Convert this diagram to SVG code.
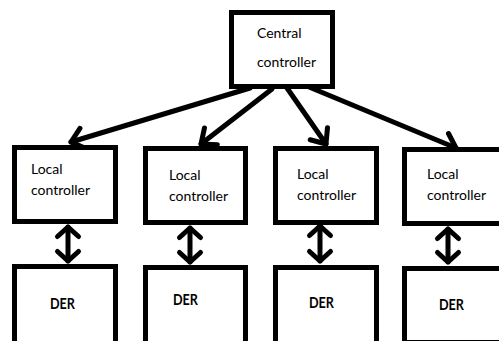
<svg xmlns="http://www.w3.org/2000/svg" width="499" height="341" viewBox="0 0 499 341">
<style>
.box{fill:#fff;stroke:#000;stroke-width:5}
.lbl{font-family:Lato,"Liberation Sans",sans-serif;font-size:14px;fill:#000}
.der{font-family:Lato,"Liberation Sans",sans-serif;font-size:15px;font-weight:bold;fill:#000}
.conn{stroke:#000;stroke-width:5;fill:none;stroke-linecap:round}
</style>
<defs>
<marker id="head" markerUnits="userSpaceOnUse" markerWidth="40" markerHeight="40" viewBox="-20 -20 40 40" refX="0" refY="0" orient="auto-start-reverse" overflow="visible">
<path d="M-12.5,-10.5 L0,0 L-12.5,10.5" fill="none" stroke="#000" stroke-width="5" stroke-linecap="round" stroke-linejoin="round"/>
</marker>
<marker id="head2" markerUnits="userSpaceOnUse" markerWidth="40" markerHeight="40" viewBox="-20 -20 40 40" refX="0" refY="0" orient="auto-start-reverse" overflow="visible">
<path d="M-9.5,-10.5 L0,0 L-9.5,10.5" fill="none" stroke="#000" stroke-width="5" stroke-linecap="round" stroke-linejoin="round"/>
</marker>
</defs>
<rect width="499" height="341" fill="#fff"/>
<g id="connectors">
<line class="conn" x1="250" y1="88" x2="71" y2="142" marker-end="url(#head)"/>
<line class="conn" x1="272" y1="89" x2="201" y2="144" marker-end="url(#head)"/>
<line class="conn" x1="287" y1="88" x2="326" y2="144" marker-end="url(#head)"/>
<line class="conn" x1="309" y1="87" x2="456" y2="148" marker-end="url(#head)"/>
<line class="conn" x1="68" y1="227" x2="68" y2="261" marker-start="url(#head2)" marker-end="url(#head2)"/>
<line class="conn" x1="190" y1="228" x2="190" y2="262" marker-start="url(#head2)" marker-end="url(#head2)"/>
<line class="conn" x1="320" y1="226" x2="320" y2="261" marker-start="url(#head2)" marker-end="url(#head2)"/>
<line class="conn" x1="448" y1="229" x2="448" y2="262" marker-start="url(#head2)" marker-end="url(#head2)"/>
</g>
<g id="central">
<rect class="box" x="231.5" y="12.5" width="101" height="74"/>
<text class="lbl" x="257" y="38">Central</text>
<text class="lbl" x="257" y="67">controller</text>
</g>
<g id="local1">
<rect class="box" x="14.5" y="147.5" width="101" height="74"/>
<text class="lbl" x="31" y="174">Local</text>
<text class="lbl" x="31" y="195">controller</text>
</g>
<g id="local2">
<rect class="box" x="145.5" y="148.5" width="100" height="74"/>
<text class="lbl" x="169" y="180">Local</text>
<text class="lbl" x="169" y="201">controller</text>
</g>
<g id="local3">
<rect class="box" x="275.5" y="148.5" width="101" height="74"/>
<text class="lbl" x="297" y="179">Local</text>
<text class="lbl" x="297" y="200">controller</text>
</g>
<g id="local4">
<rect class="box" x="404.5" y="149.5" width="110" height="74"/>
<text class="lbl" x="427" y="179">Local</text>
<text class="lbl" x="427" y="200">controller</text>
</g>
<g id="der1">
<rect class="box" x="14.5" y="266.5" width="101" height="90"/>
<text class="der" x="50" y="309" textLength="25" lengthAdjust="spacingAndGlyphs">DER</text>
</g>
<g id="der2">
<rect class="box" x="145.5" y="267.5" width="100" height="90"/>
<text class="der" x="173" y="305" textLength="25" lengthAdjust="spacingAndGlyphs">DER</text>
</g>
<g id="der3">
<rect class="box" x="275.5" y="267.5" width="101" height="90"/>
<text class="der" x="309" y="308" textLength="25" lengthAdjust="spacingAndGlyphs">DER</text>
</g>
<g id="der4">
<rect class="box" x="404.5" y="268.5" width="110" height="74"/>
<text class="der" x="439" y="310" textLength="25" lengthAdjust="spacingAndGlyphs">DER</text>
</g>
</svg>
